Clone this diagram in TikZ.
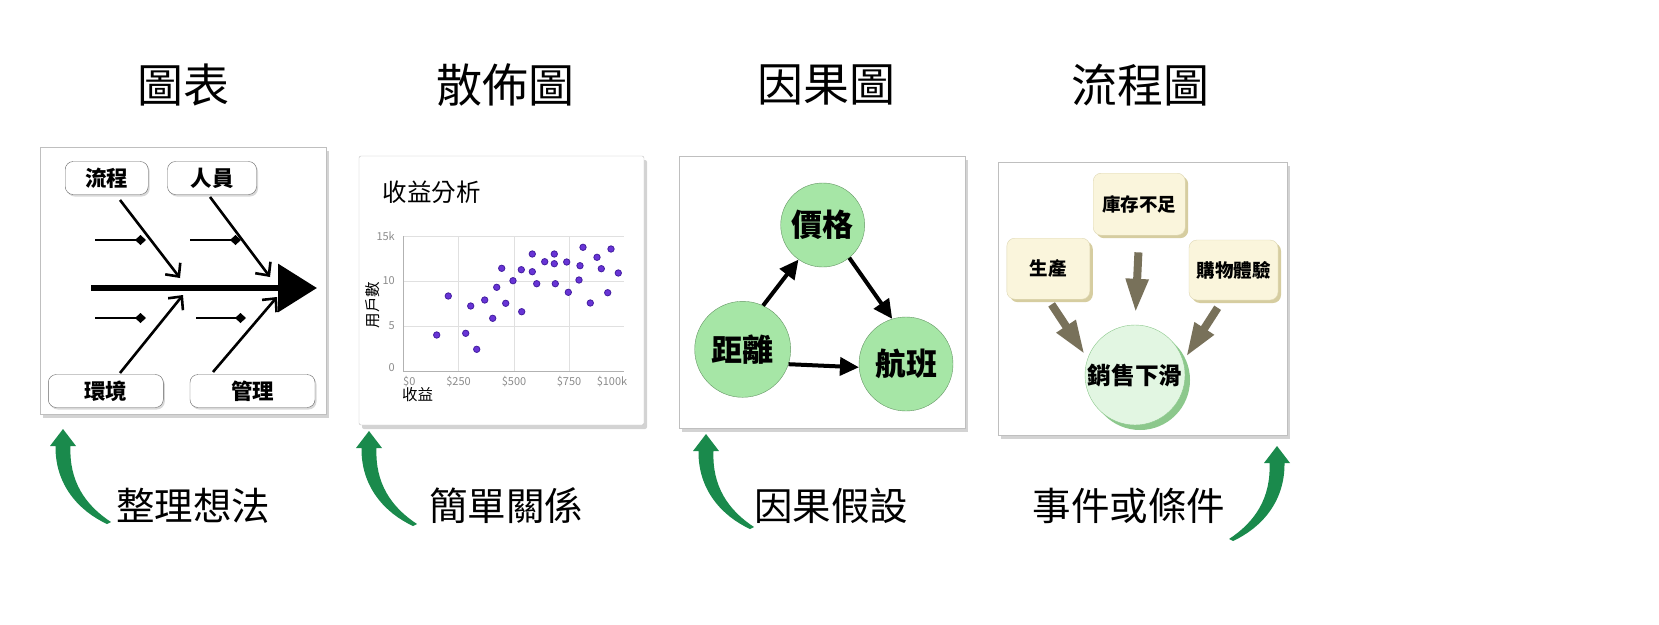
\documentclass[tikz,border=0pt]{standalone}
\usepackage{fontspec}
\setmainfont{Noto Sans CJK TC}
\usetikzlibrary{arrows.meta,shadows}

\definecolor{leafgreen}{RGB}{26,138,76}
\definecolor{dotviolet}{RGB}{104,52,214}
\definecolor{dotedge}{RGB}{66,28,160}
\definecolor{causefill}{RGB}{166,230,166}
\definecolor{causeedge}{RGB}{100,150,100}
\definecolor{cream}{RGB}{250,245,220}
\definecolor{creamshade}{RGB}{214,205,160}
\definecolor{mossarrow}{RGB}{120,113,90}
\definecolor{palegreen}{RGB}{226,246,226}
\definecolor{ringgreen}{RGB}{140,200,140}

\begin{document}
\begin{tikzpicture}[x=1pt,y=-1pt,
    panel/.style={draw=black!25,fill=white,drop shadow={shadow xshift=3pt,shadow yshift=-4pt,opacity=0.35}},
    title/.style={font=\fontsize{46}{50}\selectfont},
    caption/.style={font=\fontsize{38.5}{42}\selectfont},
    bonebox/.style={draw=black!60,rounded corners=8pt,fill=white,inner sep=0pt,minimum height=33pt,
        font=\fontsize{21.5}{24}\selectfont\bfseries,drop shadow={shadow xshift=1.5pt,shadow yshift=-2pt,opacity=0.3}},
    bone/.style={line width=2.6pt,-{Straight Barb[length=10pt,width=19pt]}},
    twig/.style={line width=1.6pt,-{Kite[length=11pt,width=10pt,inset=5.5pt]}},
    tick/.style={font=\fontsize{11}{12}\selectfont,text=black!45},
    axlabel/.style={font=\fontsize{15.5}{17}\selectfont},
    dot/.style={fill=dotviolet,draw=dotedge,line width=0.8pt},
    cause/.style={circle,draw=causeedge,fill=causefill,inner sep=0pt,font=\fontsize{31}{34}\selectfont\bfseries},
    link/.style={line width=4pt,-{Triangle[length=19pt,width=18pt]}},
    factor/.style={draw=creamshade!80,fill=cream,rounded corners=8pt,inner sep=0pt,
        font=\fontsize{18.5}{20}\selectfont\bfseries,drop shadow={shadow xshift=3pt,shadow yshift=-3pt,fill=creamshade,opacity=1}},
    push/.style={draw=mossarrow,line width=8pt,-{Triangle[length=34pt,width=21pt]}},
    growth/.style={fill=leafgreen}]

    \path[use as bounding box] (0,0) rectangle (1659,624);

    % titles
    \node[title] (t1) at (183,85) {圖表};
    \node[title] (t2) at (505.5,85) {散佈圖};
    \node[title] (t3) at (826,85) {因果圖};
    \node[title] (t4) at (1140.5,85) {流程圖};

    % frames
    \draw[panel] (40,147) rectangle (326,414);
    \draw[panel,rounded corners=2pt] (359,156) rectangle (644,425);
    \draw[panel] (679,156) rectangle (965,428);
    \draw[panel] (998,162) rectangle (1287,435);

    % fishbone
    \node[bonebox,minimum width=83pt] (1) at (106.7,178) {流程};
    \node[bonebox,minimum width=89pt] (2) at (212,178) {人員};
    \node[bonebox,minimum width=115pt] (3) at (105.8,391) {環境};
    \node[bonebox,minimum width=125pt] (4) at (252.5,391) {管理};

    \coordinate (s0) at (91,288);
    \coordinate (s1) at (317,288);
    \draw[line width=6.6pt,-{Triangle[length=39pt,width=47pt]}] (s0) -- (s1);

    \coordinate (a1) at (120,200);  \coordinate (h1) at (180,278);
    \coordinate (a2) at (210,197);  \coordinate (h2) at (270,277);
    \coordinate (a3) at (120,373);  \coordinate (h3) at (183,295);
    \coordinate (a4) at (213,372);  \coordinate (h4) at (277,297);
    \draw[bone] (a1) -- (h1);
    \draw[bone] (a2) -- (h2);
    \draw[bone] (a3) -- (h3);
    \draw[bone] (a4) -- (h4);

    \draw[twig] (95,240) -- (146,240);
    \draw[twig] (190,240) -- (241,240);
    \draw[twig] (95,318) -- (146,318);
    \draw[twig] (196,318) -- (246,318);

    % scatter
    \node[font=\fontsize{24.5}{27}\selectfont,anchor=west] (st) at (379,192.5) {收益分析};
    \foreach \yy in {236,280.7,325.7}
        \draw[black!12] (403,\yy) -- (624,\yy);
    \foreach \xx in {458.5,514,569.5}
        \draw[black!12] (\xx,236) -- (\xx,370.7);
    \draw[black!30] (403,236) -- (403,370.7) -- (624,370.7);
    \foreach \v/\yy [count=\i] in {15k/236,10/280.7,5/325.7,0/368}
        \node[tick,anchor=east,inner sep=1pt] (y\i) at (396,\yy) {\v};
    \node[tick,anchor=west,inner sep=0pt] (x1) at (403,382) {\$0};
    \foreach \v/\xx [count=\i from 2] in {\$250/458.5,\$500/514,\$750/569,\$100k/612}
        \node[tick,inner sep=0pt] (x\i) at (\xx,382) {\v};
    \node[axlabel,rotate=90] (yl) at (373,305) {用戶數};
    \node[axlabel,anchor=west,inner sep=0pt] (xl) at (402,395) {收益};

    \foreach \px/\py in {436.7/335,448.3/296,465.7/333.3,470.7/306,476.7/349.3,484.7/300,
        492.7/318.3,496.7/287.3,501.7/268.3,505.7/303.3,513/280.7,521.7/311.7,521.3/269.7,
        532.3/254,532.3/271.7,536.7/283.7,544.7/261.7,554.3/254,554.3/263.7,555.3/283.7,
        566.7/262,568.3/292.3,580/265.7,579/280,583/247.3,590.3/303,597/257.3,601.3/268.7,
        607.7/292.7,611/249,618.3/273}
        \draw[dot] (\px,\py) circle[radius=3.2pt];

    % causal
    \node[cause,minimum size=84pt] (price) at (822.7,225) {價格};
    \node[cause,minimum size=96pt] (dist) at (742.7,349.3) {距離};
    \node[cause,minimum size=94pt] (flight) at (906,364) {航班};
    \draw[link] (dist.65) -- (price.235);
    \draw[link] (price.309) -- (flight.107);
    \draw[link] (dist.342) -- (flight.184);

    % flow
    \node[factor,minimum width=92pt,minimum height=62pt] (stock) at (1139.2,204.2) {庫存不足};
    \node[factor,minimum width=83pt,minimum height=61pt] (prod) at (1048.3,268.7) {生產};
    \node[factor,minimum width=89pt,minimum height=60pt] (shop) at (1233.5,270) {購物體驗};
    \node[circle,draw=ringgreen,fill=palegreen,minimum size=100pt,inner sep=0pt,
        font=\fontsize{23.7}{26}\selectfont\bfseries,
        drop shadow={shadow xshift=5pt,shadow yshift=-5pt,fill=ringgreen,opacity=1}] (drop) at (1135,375) {銷售下滑};
    \draw[push,shorten <=17pt,shorten >=12pt] (stock.south) -- (drop.north);
    \draw[push,shorten <=6pt,shorten >=5pt] (prod.south) -- (drop.161);
    \draw[push,shorten <=9pt,shorten >=5pt] (shop.250) -- (drop.16);

    % captions
    \node[caption] (c1) at (193,506) {整理想法};
    \node[caption] (c2) at (506,506) {簡單關係};
    \node[caption] (c3) at (831,506) {因果假設};
    \node[caption] (c4) at (1129,506) {事件或條件};

    \foreach \tx/\ty/\sx in {63/429/1,369/431/1,706/434/1,1277/446/-1}
        \fill[growth,shift={(\tx,\ty)},xscale=\sx] (0,0) -- (13,17) -- (7.5,17)
            .. controls (6,52) and (22,76) .. (48,93) -- (44,95)
            .. controls (16,82) and (-8,56) .. (-7.5,17) -- (-13,17) -- cycle;
\end{tikzpicture}
\end{document}
